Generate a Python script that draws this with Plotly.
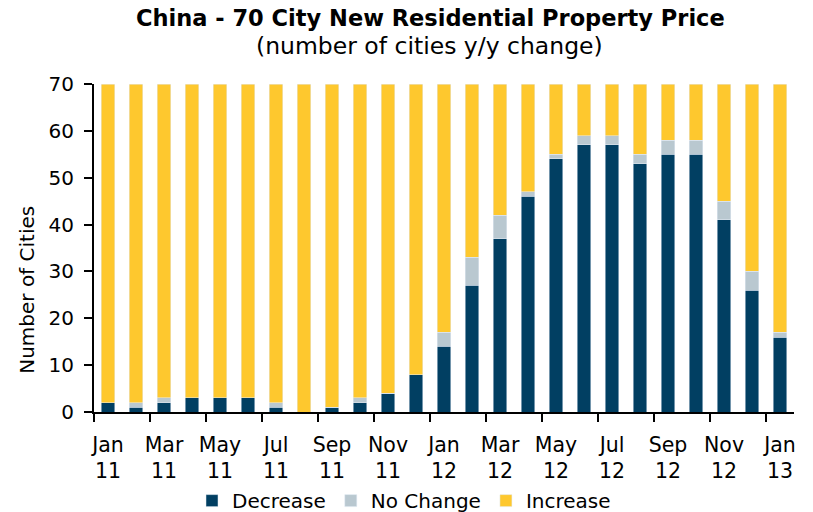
import plotly.graph_objects as go

months = ["Jan 11", "Feb 11", "Mar 11", "Apr 11", "May 11", "Jun 11", "Jul 11", "Aug 11",
          "Sep 11", "Oct 11", "Nov 11", "Dec 11", "Jan 12", "Feb 12", "Mar 12", "Apr 12",
          "May 12", "Jun 12", "Jul 12", "Aug 12", "Sep 12", "Oct 12", "Nov 12", "Dec 12", "Jan 13"]
decrease = [2, 1, 2, 3, 3, 3, 1, 0, 1, 2, 4, 8, 14, 27, 37, 46, 54, 57, 57, 53, 55, 55, 41, 26, 16]
no_change = [0, 1, 1, 0, 0, 0, 1, 0, 0, 1, 0, 0, 3, 6, 5, 1, 1, 2, 2, 2, 3, 3, 4, 4, 1]
increase = [68, 68, 67, 67, 67, 67, 68, 70, 69, 67, 66, 62, 53, 37, 28, 23, 15, 11, 11, 15, 12, 12, 25, 40, 53]
y_ticks = [0, 10, 20, 30, 40, 50, 60, 70]

x = list(range(len(months)))
label_idx = x[::2]
label_text = [months[i].replace(" ", "<br>") for i in label_idx]

FONT = "Verdana, DejaVu Sans, sans-serif"
C_DEC = "#013F62"
C_NC = "#B9C8D0"
C_INC = "#FEC82E"

fig = go.Figure()
fig.add_trace(go.Bar(x=x, y=decrease, name="Decrease", marker_color=C_DEC, width=0.47))
fig.add_trace(go.Bar(x=x, y=no_change, name="No Change", marker_color=C_NC, width=0.47))
fig.add_trace(go.Bar(x=x, y=increase, name="Increase", marker_color=C_INC, width=0.47))

PB = 412.3   # pixel of plot bottom
PH = 328.3   # plot height in px

fig.update_layout(
    barmode="stack",
    width=813, height=512,
    margin=dict(l=94, r=19, t=84, b=100, pad=0, autoexpand=False),
    paper_bgcolor="white", plot_bgcolor="white",
    font=dict(family=FONT, size=20, color="#000000"),
    showlegend=True,
    legend=dict(orientation="h", x=(404 - 94) / 700, xanchor="center",
                y=(PB - 501) / PH, yanchor="middle",
                font=dict(size=20), traceorder="normal", itemclick=False),
    annotations=[
        dict(text="<b>China - 70 City New Residential Property Price</b>", xref="paper", yref="paper",
             x=(430 - 94) / 700, y=(PB - 18) / PH, xanchor="center", yanchor="middle",
             showarrow=False, font=dict(size=22.5, family=FONT, color="#000000")),
        dict(text="(number of cities y/y change)", xref="paper", yref="paper",
             x=(429 - 94) / 700, y=(PB - 46) / PH, xanchor="center", yanchor="middle",
             showarrow=False, font=dict(size=23.5, family=FONT, color="#000000")),
        dict(text="Number of Cities", xref="paper", yref="paper", textangle=-90,
             x=(27 - 94) / 700, y=(PB - 290) / PH, xanchor="center", yanchor="middle",
             showarrow=False, font=dict(size=20, family=FONT, color="#000000")),
    ],
)

fig.update_xaxes(
    range=[-0.5, len(months) - 0.5],
    tickmode="array", tickvals=label_idx, ticktext=label_text,
    ticks="", showgrid=False, zeroline=False,
    showline=True, linecolor="#000000", linewidth=2,
    ticklabelstandoff=13, tickfont=dict(size=20.5),
    minor=dict(tick0=1.5, dtick=2, ticks="outside", ticklen=8, tickwidth=2, tickcolor="#000000", showgrid=False),
)
fig.update_yaxes(
    range=[0, 70], tickmode="array", tickvals=y_ticks,
    ticks="outside", ticklen=8, tickwidth=2, tickcolor="#000000",
    showgrid=False, zeroline=False,
    showline=True, linecolor="#000000", linewidth=2,
    ticklabelstandoff=6,
)

fig.write_html("out.html", config={"displayModeBar": False},
               post_script="document.body.style.margin='0';document.body.style.overflow='hidden';")
